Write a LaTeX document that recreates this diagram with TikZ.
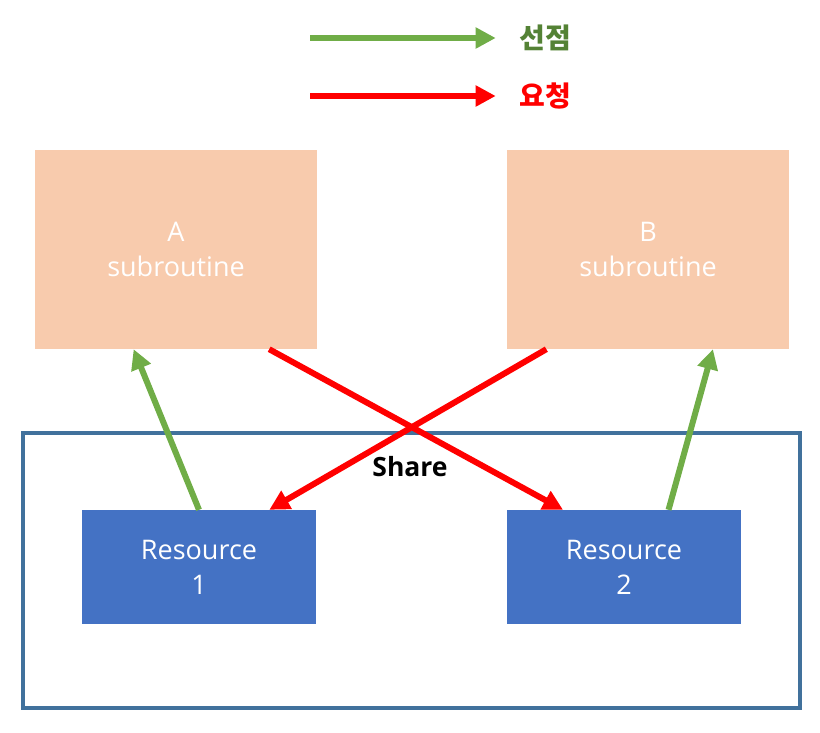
\documentclass[tikz,border=0pt]{standalone}
\usepackage{fontspec}
\setmainfont{Open Sans}
\newfontfamily\krfont{Noto Sans CJK KR}
\usetikzlibrary{positioning}
\usetikzlibrary{arrows.meta}
\usetikzlibrary{calc}
\definecolor{peach}{HTML}{F8CBAD}
\definecolor{resblue}{HTML}{4472C4}
\definecolor{frameblue}{HTML}{41719C}
\definecolor{pickgreen}{HTML}{70AD47}
\definecolor{darkgreen}{HTML}{548235}
\tikzset{
    subnode/.style = {rectangle, fill=peach, minimum width=282pt, minimum height=199pt, inner sep=0pt, align=center, text=white, font=\fontsize{27}{35}\selectfont},
    resnode/.style = {rectangle, fill=resblue, minimum width=234pt, minimum height=114pt, inner sep=0pt, align=center, text=white, font=\fontsize{27}{35}\selectfont},
    legnode/.style = {font=\krfont\bfseries\fontsize{28}{32}\selectfont},
    edgeg/.style = {-{Triangle[length=20pt,width=20pt]}, line width=6pt, pickgreen}, % 선점
    edger/.style = {-{Triangle[length=20pt,width=20pt]}, line width=6pt, red}, % 요청
}
\begin{document}
\begin{tikzpicture}[x=1pt,y=-1pt]
\useasboundingbox (0,0) rectangle (820,732);
%
\node[legnode, text=darkgreen] at (545,38) (sel) {선점};
\node[legnode, text=red] at (545,96) (req) {요청};
\coordinate (gs) at (310,38);
\coordinate (rs) at (310,96);
\draw[edgeg, shorten >=20pt] (gs) -- (sel.west);
\draw[edger, shorten >=20pt] (rs) -- (req.west);
%
\draw[frameblue, line width=4pt] (23,433) rectangle (800,708);
\node[font=\bfseries\fontsize{26.5}{30}\selectfont] at (410,467) (share) {Share};
%
\node[subnode] at (176,249.5) (a) {A\\subroutine};
\node[subnode] at (648,249.5) (b) {B\\subroutine};
\node[resnode] at (199,567) (r1) {Resource\\1};
\node[resnode] at (624,567) (r2) {Resource\\2};
%
\draw[edgeg] ($(r1.north west)!0.50!(r1.north east)$) -- ($(a.south west)!0.35!(a.south east)$);
\draw[edgeg] ($(r2.north west)!0.69!(r2.north east)$) -- ($(b.south west)!0.73!(b.south east)$);
\draw[edger] ($(a.south west)!0.83!(a.south east)$) -- ($(r2.north west)!0.24!(r2.north east)$);
\draw[edger] ($(b.south west)!0.14!(b.south east)$) -- ($(r1.north west)!0.80!(r1.north east)$);

\end{tikzpicture}
\end{document}
